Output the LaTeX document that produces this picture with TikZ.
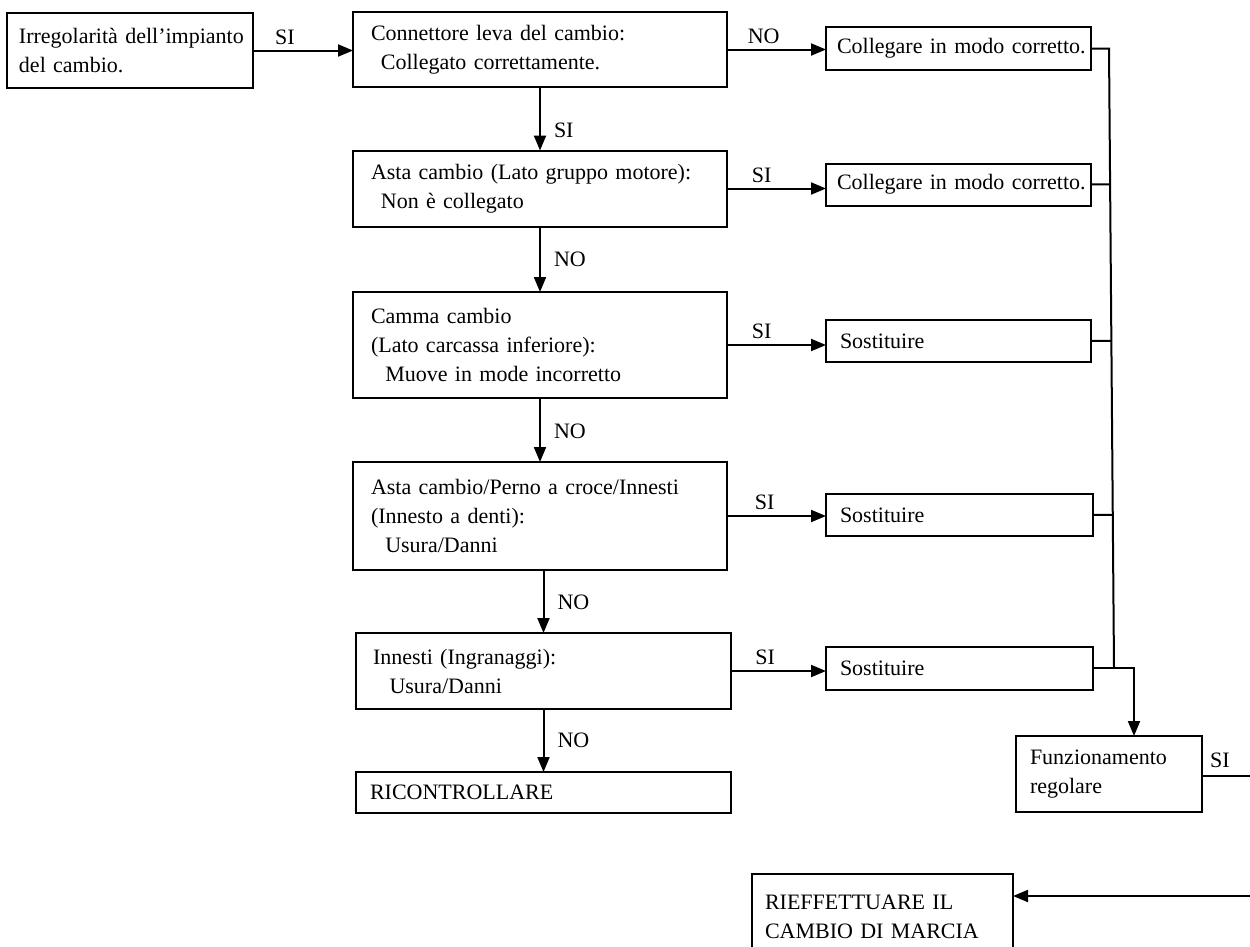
\documentclass[tikz,border=0pt]{standalone}
\usepackage{fontspec}
\setmainfont{Liberation Serif}
\usetikzlibrary{arrows.meta,calc}
\begin{document}
\begin{tikzpicture}[x=1pt,y=-1pt,
  every node/.style={font=\fontsize{22}{29}\selectfont},
  box/.style={draw, line width=2pt, align=left, inner ysep=0pt, outer sep=0pt},
  link/.style={line width=2pt},
  arr/.style={link, -{Triangle[length=15pt,width=12pt]}},
  lbl/.style={inner sep=2pt}
]
\useasboundingbox (0,0) rectangle (1250,946);
\clip (0,0) rectangle (1250,946);

% decision chain
\node[box, minimum height=75, text width=222, inner xsep=12] (A) at (130,50.5)
  {\mbox{Irregolarità dell’impianto}\\\mbox{del cambio.}};
\node[box, minimum height=75, text width=338, inner xsep=18] (B) at (540,49.5)
  {\mbox{Connettore leva del cambio:}\\\mbox{\hspace{0.45em}Collegato correttamente.}};
\node[box, minimum height=76, text width=338, inner xsep=18] (D) at (540,188.5)
  {\mbox{Asta cambio (Lato gruppo motore):}\\\mbox{\hspace{0.45em}Non è collegato}};
\node[box, minimum height=106, text width=338, inner xsep=18] (E) at (540,345)
  {\mbox{Camma cambio}\\\mbox{(Lato carcassa inferiore):}\\\mbox{\hspace{0.65em}Muove in mode incorretto}};
\node[box, minimum height=108, text width=338, inner xsep=18] (G) at (540,516)
  {\mbox{Asta cambio/Perno a croce/Innesti}\\\mbox{(Innesto a denti):}\\\mbox{\hspace{0.65em}Usura/Danni}};
\node[box, minimum height=76, text width=341, inner xsep=17] (H) at (543.5,671)
  {\mbox{Innesti (Ingranaggi):}\\\mbox{\hspace{0.75em}Usura/Danni}};
\node[box, minimum height=41, text width=347, inner xsep=14] (K) at (543.5,792.5)
  {\mbox{RICONTROLLARE}};

% remedies
\node[box, minimum height=43, text width=243, inner xsep=11] (C1) at (958.5,48.5)
  {\mbox{Collegare in modo corretto.}};
\node[box, minimum height=42, text width=243, inner xsep=11] (C2) at (958.5,184.5)
  {\mbox{Collegare in modo corretto.}};
\node[box, minimum height=42, text width=237, inner xsep=14] (F1) at (958.5,341)
  {\mbox{Sostituire}};
\node[box, minimum height=42, text width=239, inner xsep=14] (F2) at (959.5,515)
  {\mbox{Sostituire}};
\node[box, minimum height=43, text width=239, inner xsep=14] (F3) at (959.5,668)
  {\mbox{Sostituire}};

% result and repeat
\node[box, minimum height=76, text width=158, inner xsep=14] (J) at (1109,774)
  {\mbox{Funzionamento}\\\mbox{regolare}};
\node[box, minimum height=86, text width=235, inner xsep=13] (L) at (882.5,917)
  {\mbox{RIEFFETTUARE IL}\\\mbox{CAMBIO DI MARCIA}};

% horizontal branches
\draw[arr] (A.east) -- node[lbl, above=3pt, pos=0.32] {SI} (A.east -| B.west);
\draw[arr] (B.east) -- node[lbl, above=3pt, pos=0.37] {NO} (B.east -| C1.west);
\draw[arr] (D.east) -- node[lbl, above=3pt, pos=0.35] {SI} (D.east -| C2.west);
\draw[arr] (E.east) -- node[lbl, above=3pt, pos=0.35] {SI} (E.east -| F1.west);
\draw[arr] (G.east) -- node[lbl, above=3pt, pos=0.38] {SI} (G.east -| F2.west);
\draw[arr] (H.east) -- node[lbl, above=3pt, pos=0.36] {SI} (H.east -| F3.west);

% vertical chain
\draw[arr] (B.south) -- node[lbl, right=11pt, pos=0.68] {SI} (D.north);
\draw[arr] (D.south) -- node[lbl, right=11pt, pos=0.5] {NO} (E.north);
\draw[arr] (E.south) -- node[lbl, right=11pt, pos=0.52] {NO} (G.north);
\draw[arr] (H.north |- G.south) -- node[lbl, right=11pt, pos=0.52] {NO} (H.north);
\draw[arr] (H.south) -- node[lbl, right=11pt, pos=0.5] {NO} (K.north);

% collecting line on the right
\coordinate (bustop) at (1109,48.5);
\coordinate (busbot) at (1114,668);
\draw[link] (C1.east) -- (bustop) -- (busbot);
\draw[link] (C2.east) -- ($(bustop)!(C2.east)!(busbot)$);
\draw[link] (F1.east) -- ($(bustop)!(F1.east)!(busbot)$);
\draw[link] (F2.east) -- ($(bustop)!(F2.east)!(busbot)$);
\draw[arr] (F3.east) -| ([xshift=25pt]J.north);

% exits at the right margin
\coordinate (jout) at (1262,776);
\coordinate (lin) at (1262,896);
\draw[link] (J.east |- jout) -- node[lbl, above=5pt, pos=0.3] {SI} (jout);
\draw[arr] (lin) -- (lin -| L.east);
\end{tikzpicture}
\end{document}
